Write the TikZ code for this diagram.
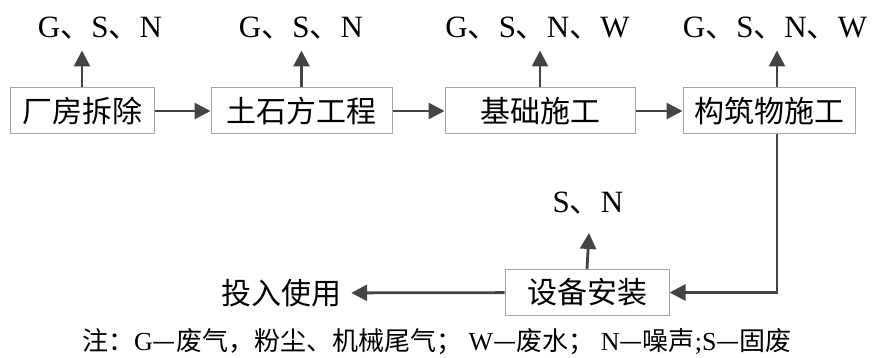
\documentclass[tikz,border=0pt]{standalone}
\usepackage{fontspec}
\setmainfont{Liberation Serif}
\newfontfamily\cjk{Noto Sans CJK SC}
\usetikzlibrary{arrows.meta}

\definecolor{boxgray}{RGB}{165,165,165}
\definecolor{arrowgray}{RGB}{68,68,68}
\newcommand{\dn}{{\cjk 、}}

\begin{document}
\begin{tikzpicture}[x=1pt,y=-1pt,
    stage/.style={draw=boxgray, line width=1pt, minimum height=46pt, inner sep=0pt,
                  font=\cjk\fontsize{30}{30}\selectfont},
    flow/.style={draw=arrowgray, line width=2.8pt, -{Triangle[length=16pt,width=16pt]}},
    waste/.style={inner sep=0pt, font=\fontsize{31}{31}\selectfont}]
    \useasboundingbox (0,0) rectangle (875,358);   % page size

    % process boxes
    \node[stage, minimum width=144pt] (chaichu) at (82,111) {厂房拆除};
    \node[stage, minimum width=181pt] (tushi)   at (301.5,111) {土石方工程};
    \node[stage, minimum width=190pt] (jichu)   at (540,111) {基础施工};
    \node[stage, minimum width=172pt] (gouzhu)  at (769,111) {构筑物施工};
    \node[stage, minimum width=164pt] (shebei)  at (587,292.5) {设备安装};
    \node[inner sep=10pt, font=\cjk\fontsize{30}{30}\selectfont] (touru) at (281,293) {投入使用};

    % pollutants
    \node[waste] (w1) at (100,28) {G\dn S\dn N};
    \node[waste] (w2) at (301,28) {G\dn S\dn N};
    \node[waste] (w3) at (537.5,28) {G\dn S\dn N\dn W};
    \node[waste] (w4) at (775,28) {G\dn S\dn N\dn W};
    \node[waste] (w5) at (588,203) {S\dn N};

    \draw[flow] (chaichu.north) -- ++(0,-37);
    \draw[flow] (tushi.north) -- ++(0,-37);
    \draw[flow] (jichu.north) -- ++(0,-37);
    \draw[flow] ([xshift=8pt]gouzhu.north) -- ++(0,-37);
    \draw[flow] (shebei.north) -- ++(2,-36);

    % main flow
    \draw[flow] (chaichu) -- (tushi);
    \draw[flow] (tushi) -- (jichu);
    \draw[flow] (jichu) -- (gouzhu);
    \draw[flow] ([xshift=8pt]gouzhu.south) |- (shebei.east);
    \draw[flow] (shebei) -- (touru);

    % note
    \node[inner sep=0pt, font=\fontsize{26}{26}\selectfont] (zhu) at (437,342)
      {{\cjk 注：}G{\cjk —废气，粉尘、机械尾气；} W{\cjk —废水；} N{\cjk —噪声};S{\cjk —固废}};
\end{tikzpicture}
\end{document}
